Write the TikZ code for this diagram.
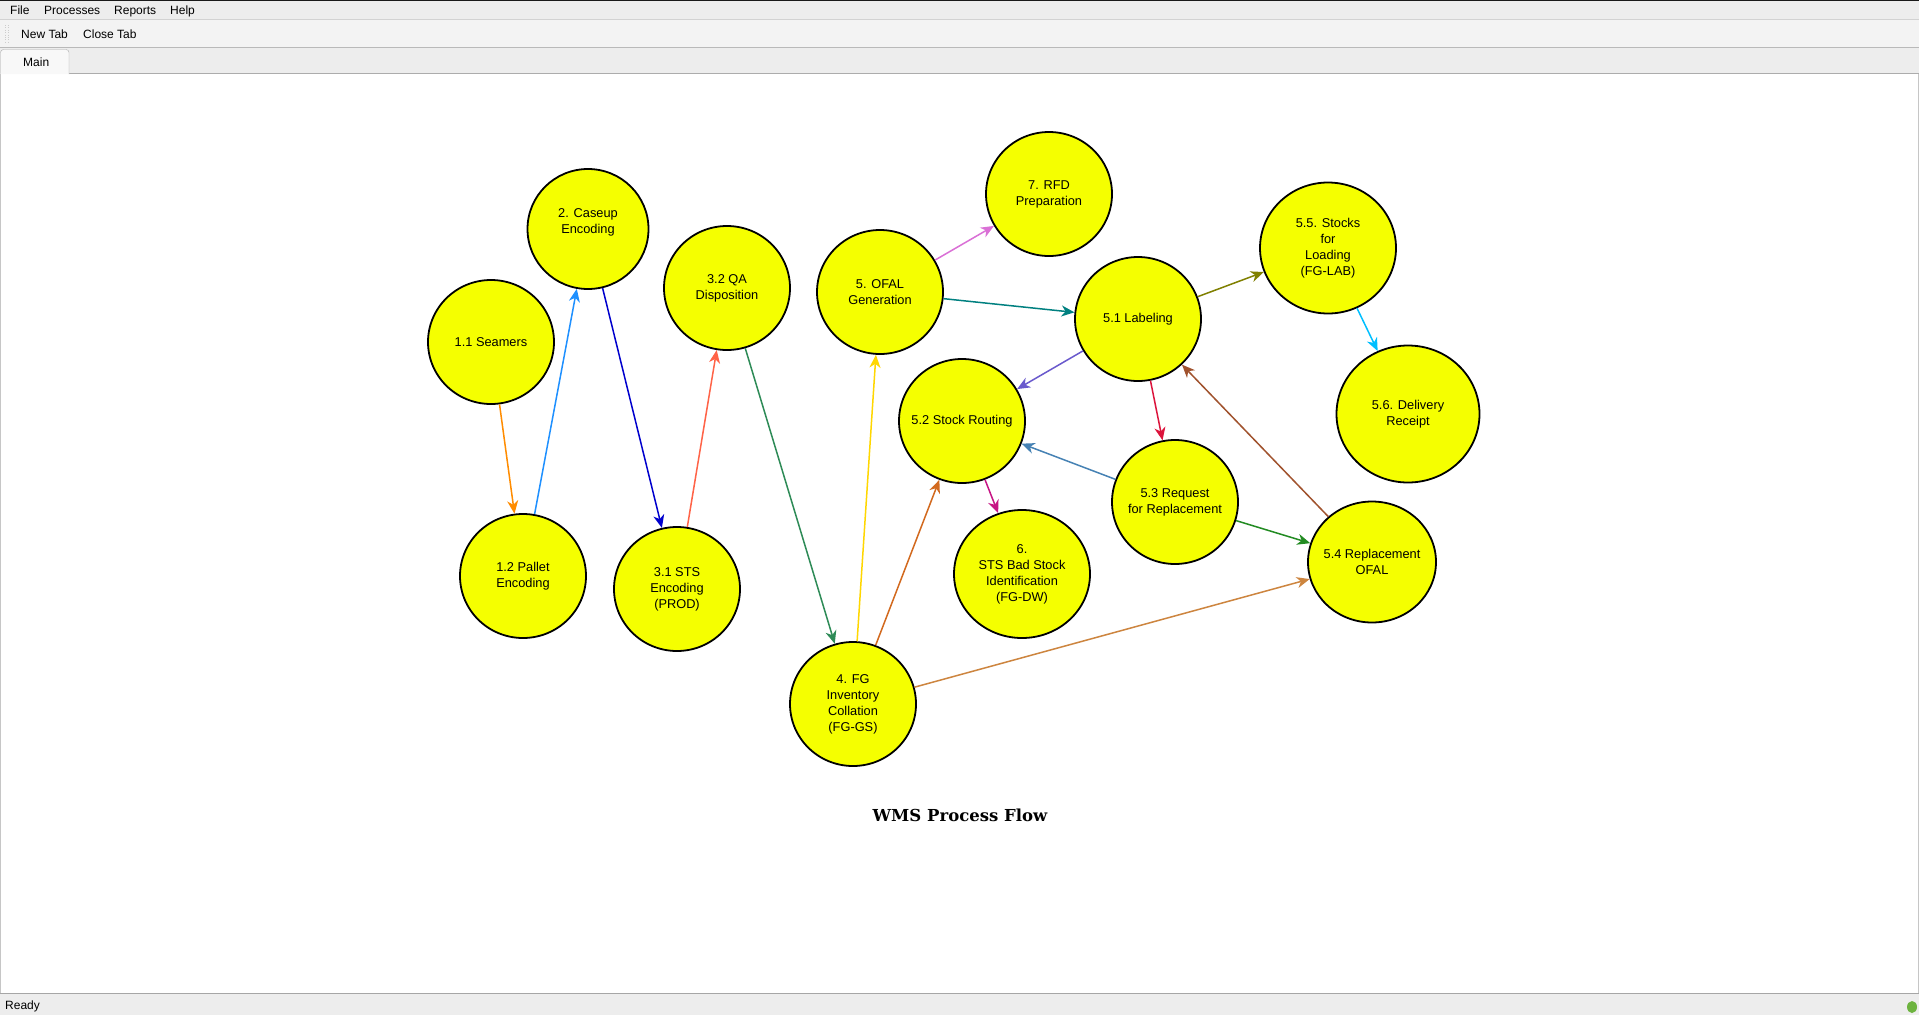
\documentclass[tikz,border=0pt]{standalone}
\usepackage{fontspec}
\setmainfont{Liberation Sans}
\newfontfamily\titlefont{DejaVu Serif}
\usepackage{tikz}
\usetikzlibrary{shapes.geometric,arrows.meta,positioning}
\usepackage{xcolor}
\definecolor{procyellow}{HTML}{F5FF00}
\definecolor{barbg}{HTML}{EDEDED}
\definecolor{toolbg}{HTML}{F3F3F3}
\definecolor{tabbg}{HTML}{F8F8F8}
\definecolor{statusgreen}{HTML}{6DB33F}
\definecolor{cOrange}{HTML}{FF8C00}
\definecolor{cDodger}{HTML}{1E90FF}
\definecolor{cMedBlue}{HTML}{0000CD}
\definecolor{cTomato}{HTML}{FF6347}
\definecolor{cSeaGreen}{HTML}{2E8B57}
\definecolor{cGold}{HTML}{FFD700}
\definecolor{cChocolate}{HTML}{D2691E}
\definecolor{cPeru}{HTML}{CD853F}
\definecolor{cOrchid}{HTML}{DA70D6}
\definecolor{cTeal}{HTML}{008080}
\definecolor{cSlate}{HTML}{6A5ACD}
\definecolor{cOlive}{HTML}{808000}
\definecolor{cCrimson}{HTML}{DC143C}
\definecolor{cSky}{HTML}{00BFFF}
\definecolor{cViolet}{HTML}{C71585}
\definecolor{cSteel}{HTML}{4682B4}
\definecolor{cForest}{HTML}{228B22}
\definecolor{cSienna}{HTML}{A0522D}

\begin{document}
\begin{tikzpicture}[x=1pt, y=-1pt,
    proc/.style={ellipse, draw, line width=1.8pt, fill=procyellow,
                 minimum width=126pt, minimum height=124pt,
                 inner xsep=-12pt, inner ysep=0pt,
                 align=center, font=\fontsize{12.8}{16}\selectfont},
    arr/.style={-{Stealth[length=13pt, width=11pt, inset=4pt]}, line width=1.5pt},
    ui/.style={font=\fontsize{12}{14}\selectfont, inner sep=0pt, anchor=base west}
]
\useasboundingbox (0,0) rectangle (1919,1015);

% Window
\fill[white] (0,0) rectangle (1919,1015);
\fill[barbg] (0,0) rectangle (1919,20);
\fill[black!90] (0,0) rectangle (1919,1.3);
\draw[gray!35] (0,19.5) -- (1919,19.5);
\fill[toolbg] (0,20) rectangle (1919,47);
\draw[gray!55] (0,47.5) -- (1919,47.5);
\fill[barbg] (0,48) rectangle (1919,73);
\draw[gray!65] (69,73.5) -- (1919,73.5);
\draw[gray!65, fill=tabbg, rounded corners=3pt] (0.5,74) |- (69,49.5) -- (69,74);
\foreach \gx in {5,8} {
  \draw[gray!40, line width=0.8pt, dash pattern=on 0.8pt off 1.6pt] (\gx,25) -- (\gx,44);
}
\draw[gray!45] (0.5,74) -- (0.5,993) (1918.5,74) -- (1918.5,993);
\draw[gray!70] (0,993.5) -- (1919,993.5);
\fill[barbg] (0,994) rectangle (1919,1015);
\fill[statusgreen] (1912,1007) ellipse (5 and 6);

% Menu, toolbar, tab, status
\node[ui] (mfile) at (10,14.3) {File};
\node[ui] (mproc) at (44,14.3) {Processes};
\node[ui] (mrep) at (114,14.3) {Reports};
\node[ui] (mhelp) at (170,14.3) {Help};
\node[ui] (newtab) at (21,38.3) {New Tab};
\node[ui] (closetab) at (83,38.3) {Close Tab};
\node[ui] (maintab) at (23,66.3) {Main};
\node[ui] (ready) at (5,1009.5) {Ready};

% Production
\node[proc] (seam) at (491,342) {1.1 Seamers};
\node[proc] (pallet) at (523,576) {1.2 Pallet\\Encoding};
\node[proc, minimum width=121pt, minimum height=120pt] (caseup) at (588,229) {2. Caseup\\Encoding\\\mbox{}};
\node[proc] (sts) at (677,589) {3.1 STS\\Encoding\\(PROD)};
\node[proc] (qa) at (727,288) {3.2 QA\\Disposition};
\node[proc] (fg) at (853,704) {4. FG\\Inventory\\Collation\\(FG-GS)};

% Order fulfilment
\node[proc] (ofal) at (880,292) {5. OFAL\\Generation};
\node[proc] (rfd) at (1049,194) {7. RFD\\Preparation};
\node[proc] (labeling) at (1138,319) {5.1 Labeling};
\node[proc] (routing) at (962,421) {5.2 Stock Routing};
\node[proc] (request) at (1175,502) {5.3 Request\\for Replacement};
\node[proc, minimum width=128pt, minimum height=121pt] (repl) at (1372,562) {5.4 Replacement\\OFAL};
\node[proc, minimum width=136pt, minimum height=131pt] (stocks) at (1328,248) {5.5. Stocks\\for\\Loading\\(FG-LAB)};
\node[proc, minimum width=143pt, minimum height=137pt] (delivery) at (1408,414) {5.6. Delivery\\Receipt};
\node[proc, minimum width=136pt, minimum height=128pt] (bad) at (1022,574) {6.\\STS Bad Stock\\Identification\\(FG-DW)};

% Title
\node[font={\titlefont\bfseries\fontsize{16.5}{20}\selectfont}] (title) at (960,815) {WMS Process Flow};

% Arrows
\foreach \a/\b/\c in {seam/pallet/cOrange, pallet/caseup/cDodger, caseup/sts/cMedBlue,
    sts/qa/cTomato, qa/fg/cSeaGreen, fg/ofal/cGold, fg/routing/cChocolate,
    fg/repl/cPeru, ofal/rfd/cOrchid, ofal/labeling/cTeal, labeling/routing/cSlate,
    labeling/stocks/cOlive, labeling/request/cCrimson, stocks/delivery/cSky,
    routing/bad/cViolet, request/routing/cSteel, request/repl/cForest,
    repl/labeling/cSienna} {
  \draw[arr, \c] (\a) -- (\b);
}

\end{tikzpicture}
\end{document}
